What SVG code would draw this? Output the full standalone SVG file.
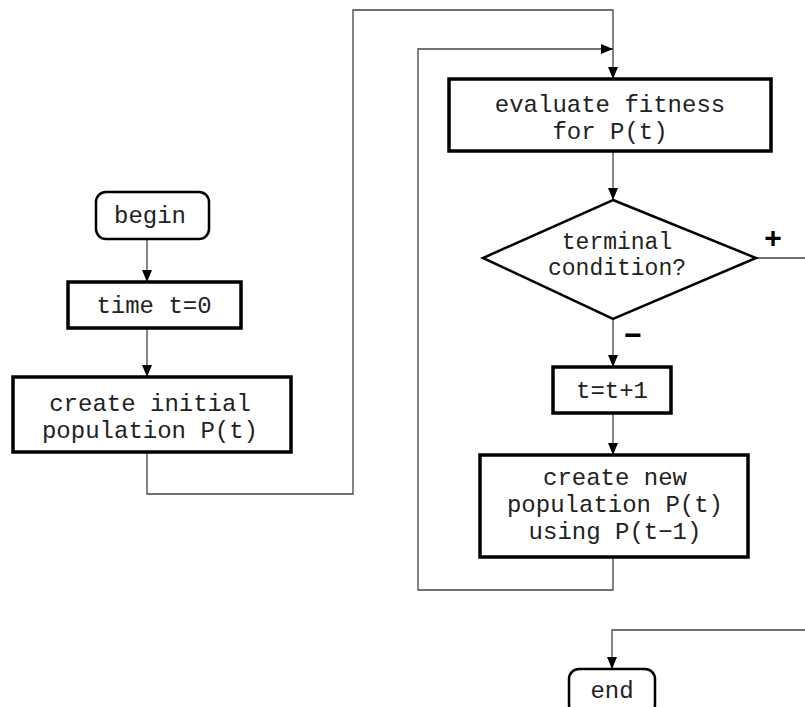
<svg xmlns="http://www.w3.org/2000/svg" width="805" height="707" viewBox="0 0 805 707">
  <style>
    .box { fill: #fff; stroke: #000; stroke-width: 3.5; }
    .term { fill: #fff; stroke: #000; stroke-width: 2.5; }
    .dec { fill: #fff; stroke: #000; stroke-width: 2.5; stroke-linejoin: miter; }
    .lbl { font-family: "Liberation Mono", "Courier New", monospace; font-size: 24px; fill: #222; text-anchor: middle; }
    .small { font-size: 23px; }
    .sign { font-family: "Liberation Sans", Arial, sans-serif; font-size: 30px; font-weight: bold; fill: #000; text-anchor: middle; }
    .wire { fill: none; stroke: #444; stroke-width: 1.3; }
  </style>
  <defs>
    <marker id="arrow" viewBox="0 0 12 10" refX="12" refY="5" markerWidth="12" markerHeight="10" markerUnits="userSpaceOnUse" orient="auto">
      <path d="M0,0 L12,5 L0,10 Z" fill="#000"/>
    </marker>
  </defs>
  <rect width="805" height="707" fill="#fff"/>

  <g id="connectors">
    <path class="wire" d="M147,239 V282" marker-end="url(#arrow)"/>
    <path class="wire" d="M147,328 V377" marker-end="url(#arrow)"/>
    <path class="wire" d="M147,452 V494 H353 V10 H613 V79" marker-end="url(#arrow)"/>
    <path class="wire" d="M613,557 V590 H418 V49 H613" marker-end="url(#arrow)"/>
    <path class="wire" d="M613,151 V200" marker-end="url(#arrow)"/>
    <path class="wire" d="M613,319 V367" marker-end="url(#arrow)"/>
    <path class="wire" d="M613,413 V455" marker-end="url(#arrow)"/>
    <path class="wire" d="M756,258 H805"/>
    <path class="wire" d="M805,630 H612 V669" marker-end="url(#arrow)"/>
  </g>

  <g id="begin">
    <rect class="term" x="96" y="192" width="113" height="47" rx="10"/>
    <text class="lbl" x="150" y="223">begin</text>
  </g>

  <g id="init-time">
    <rect class="box" x="68" y="282" width="173" height="46"/>
    <text class="lbl" x="154" y="313">time t=0</text>
  </g>

  <g id="init-population">
    <rect class="box" x="13" y="377" width="278" height="75"/>
    <text class="lbl" x="150" y="411">create initial</text>
    <text class="lbl" x="150" y="438">population P(t)</text>
  </g>

  <g id="evaluate">
    <rect class="box" x="449" y="79" width="322" height="72"/>
    <text class="lbl" x="610" y="112">evaluate fitness</text>
    <text class="lbl" x="610" y="139">for P(t)</text>
  </g>

  <g id="condition">
    <polygon class="dec" points="613,200 756,258 613,319 483,258"/>
    <text class="lbl small" x="617" y="249">terminal</text>
    <text class="lbl small" x="617" y="275">condition?</text>
    <text class="sign" x="773" y="248">+</text>
    <text class="sign" x="633" y="345">−</text>
  </g>

  <g id="increment">
    <rect class="box" x="553" y="367" width="118" height="46"/>
    <text class="lbl" x="612" y="398">t=t+1</text>
  </g>

  <g id="new-population">
    <rect class="box" x="480" y="455" width="268" height="102"/>
    <text class="lbl" x="615" y="485">create new</text>
    <text class="lbl" x="615" y="512">population P(t)</text>
    <text class="lbl" x="615" y="539">using P(t−1)</text>
  </g>

  <g id="end">
    <rect class="term" x="569" y="669" width="86" height="46" rx="10"/>
    <text class="lbl" x="612" y="698">end</text>
  </g>
</svg>
